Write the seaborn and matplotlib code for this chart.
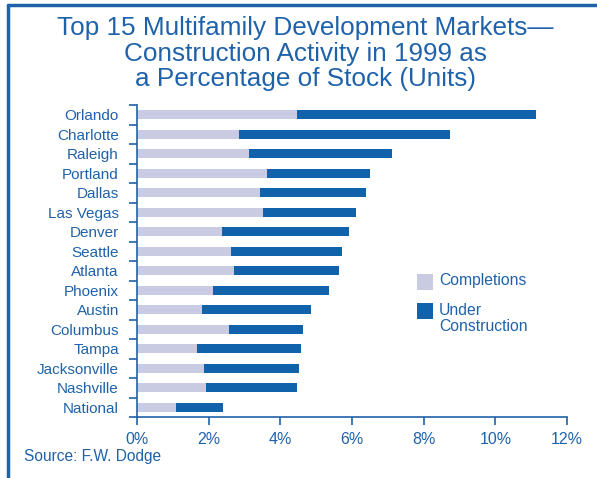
import matplotlib
matplotlib.use("Agg")
import matplotlib.pyplot as plt
from matplotlib.patches import Rectangle
from matplotlib.lines import Line2D
import seaborn as sns
import pandas as pd

# data (percent of stock)
cities = ["Orlando", "Charlotte", "Raleigh", "Portland", "Dallas", "Las Vegas",
          "Denver", "Seattle", "Atlanta", "Phoenix", "Austin", "Columbus",
          "Tampa", "Jacksonville", "Nashville", "National"]
completions = [4.46, 2.86, 3.13, 3.63, 3.42, 3.53, 2.37, 2.61, 2.71, 2.12,
               1.82, 2.58, 1.67, 1.87, 1.92, 1.09]
under_construction = [6.68, 5.88, 3.98, 2.87, 2.98, 2.57, 3.56, 3.12, 2.92,
                      3.24, 3.03, 2.05, 2.91, 2.66, 2.54, 1.31]
x_ticks = [0, 2, 4, 6, 8, 10, 12]

TEXT = "#1F62AA"
DARK = "#1062AB"
LIGHT = "#C9CBE3"

sns.set_style("white")
plt.rcParams["font.family"] = ["Liberation Sans", "DejaVu Sans"]

df = pd.DataFrame({"city": cities, "comp": completions, "uc": under_construction})
df["total"] = df["comp"] + df["uc"]

fig = plt.figure(figsize=(5.97, 4.78), dpi=100)
ax = fig.add_axes([137 / 597, 1 - 417 / 478, (567 - 137) / 597, (417 - 105) / 478])

# stacked bars: total in dark blue, completions drawn over it
sns.barplot(data=df, x="total", y="city", color=DARK, orient="h",
            width=0.46, saturation=1, ax=ax, edgecolor="none")
sns.barplot(data=df, x="comp", y="city", color=LIGHT, orient="h",
            width=0.46, saturation=1, ax=ax, edgecolor="none")

ax.set_xlim(0, 12)
ax.set_ylim(len(cities) - 0.5, -0.5)
ax.set_xticks(x_ticks)
ax.set_xticklabels([f"{t}%" for t in x_ticks], color=TEXT, fontsize=11.5)
ax.set_yticks(range(len(cities)))
ax.set_yticklabels(cities, color=TEXT, fontsize=11)
ax.tick_params(axis="y", length=0, pad=13)
ax.tick_params(axis="x", direction="out", length=6, width=1.2, color=TEXT, pad=5,
               bottom=True)
ax.set_xlabel("")
ax.set_ylabel("")

# boundary ticks on the category axis
ax.set_yticks([i - 0.5 for i in range(len(cities) + 1)], minor=True)
ax.tick_params(axis="y", which="minor", direction="out", length=6, width=1.2,
               color=TEXT, left=True)

for side in ["top", "right"]:
    ax.spines[side].set_visible(False)
for side in ["left", "bottom"]:
    ax.spines[side].set_color(TEXT)
    ax.spines[side].set_linewidth(1.2)

# title and source
fig.text(0.511, 1 - 16 / 478,
         "Top 15 Multifamily Development Markets—\nConstruction Activity in 1999 as\na Percentage of Stock (Units)",
         ha="center", va="top", color=TEXT, fontsize=18.8, linespacing=1.08)
fig.text(24 / 597, 1 - 457 / 478, "Source: F.W. Dodge", ha="left", va="center",
         color=TEXT, fontsize=11.2)

# legend drawn by hand
fig.patches.append(Rectangle((417 / 597, 1 - 290 / 478), 16 / 597, 16 / 478,
                             transform=fig.transFigure, facecolor=LIGHT, edgecolor="none"))
fig.patches.append(Rectangle((417 / 597, 1 - 319 / 478), 16 / 597, 16 / 478,
                             transform=fig.transFigure, facecolor=DARK, edgecolor="none"))
fig.text(439 / 597, 1 - 281 / 478, "Completions", ha="left", va="center",
         color=TEXT, fontsize=11.3)
fig.text(439 / 597, 1 - 303 / 478, "Under\nConstruction", ha="left", va="top",
         color=TEXT, fontsize=11.3, linespacing=1.05)

# blue frame along top and left
fig.add_artist(Line2D([8 / 597, 1], [1 - 5 / 478, 1 - 5 / 478], transform=fig.transFigure,
                      color=TEXT, linewidth=2.5))
fig.add_artist(Line2D([8 / 597, 8 / 597], [0, 1 - 5 / 478], transform=fig.transFigure,
                      color=TEXT, linewidth=2.5))

fig.savefig("out.png", dpi=100, facecolor="white")
